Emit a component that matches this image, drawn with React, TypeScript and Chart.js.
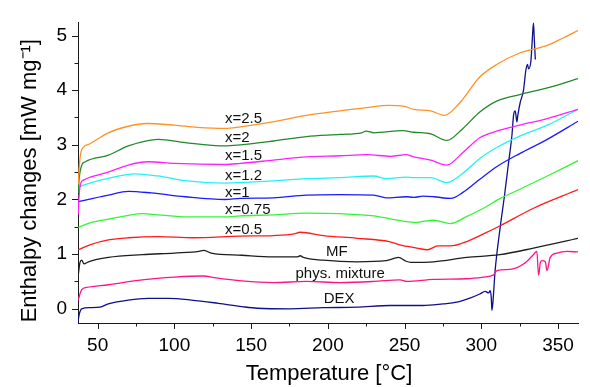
import React, { useEffect, useRef } from 'react';
import { Chart, registerables } from 'chart.js';

Chart.register(...registerables);

type P = [number, number];

// ---- axis ticks ----
const xTicks = [50, 100, 150, 200, 250, 300, 350];
const xMinorTicks = [75, 125, 175, 225, 275, 325];
const yTicks = [0, 1, 2, 3, 4, 5];
const yMinorTicks = [0.5, 1.5, 2.5, 3.5, 4.5];

// ---- series (temperature °C, enthalpy change mW/mg) ----
const curveX25: P[] = [
  [37.3, 2.28], [38, 2.6], [39, 2.85], [40.5, 2.95], [45, 3.02], [57, 3.22], [70, 3.34], [82, 3.39],
  [100, 3.36], [115, 3.32], [133, 3.3], [143, 3.33], [164, 3.42], [186, 3.54], [208, 3.62], [225, 3.68],
  [240, 3.72], [249, 3.71], [256, 3.65], [267, 3.62], [276, 3.54], [286, 3.77], [299, 4.24], [310, 4.47],
  [325, 4.68], [343, 4.82], [353, 4.95], [363, 5.09],
];
const curveX2: P[] = [
  [37.3, 2.12], [38, 2.4], [39.5, 2.62], [42, 2.69], [57, 2.81], [70, 2.98], [89.5, 3.1], [107, 3.04],
  [133, 2.98], [143, 3.0], [164.5, 3.07], [186, 3.15], [208, 3.19], [222, 3.22], [225, 3.25], [230, 3.22],
  [249, 3.26], [256, 3.23], [267, 3.2], [277.5, 3.08], [288, 3.3], [299, 3.6], [310, 3.8], [325, 3.92],
  [343, 4.04], [363, 4.21],
];
const curveX15: P[] = [
  [37.3, 1.72], [38, 2.1], [39, 2.3], [41, 2.36], [57, 2.5], [70, 2.63], [83, 2.69], [100, 2.66],
  [133, 2.64], [143, 2.66], [164.5, 2.72], [186, 2.78], [208, 2.8], [225, 2.82], [241, 2.79], [251, 2.82],
  [256, 2.78], [267, 2.72], [277.5, 2.63], [288, 2.86], [299, 3.13], [310, 3.25], [325, 3.36], [343, 3.48],
  [363, 3.65],
];
const curveX12: P[] = [
  [37.3, 2.22], [39.5, 2.25], [46, 2.31], [59, 2.4], [74, 2.47], [89, 2.43], [108.5, 2.34], [133, 2.3],
  [143, 2.31], [164.5, 2.34], [186, 2.38], [208, 2.4], [230, 2.43], [238, 2.38], [251, 2.41], [256, 2.4],
  [267, 2.4], [277.5, 2.31], [288, 2.48], [299, 2.75], [310, 2.95], [325, 3.16], [343, 3.36], [363, 3.65],
];
const curveX1: P[] = [
  [37.3, 1.96], [42, 1.99], [57, 2.08], [70, 2.15], [85, 2.12], [107, 2.05], [133, 2.0], [143, 2.02],
  [164.5, 2.03], [186, 2.08], [208, 2.09], [230, 2.08], [238, 2.03], [251, 2.05], [256, 2.04], [262, 2.06],
  [269, 2.05], [280, 2.02], [288, 2.13], [299, 2.37], [310, 2.6], [325, 2.84], [343, 3.1], [363, 3.43],
];
const curveX075: P[] = [
  [37.3, 1.49], [46, 1.58], [57, 1.64], [70, 1.71], [79, 1.74], [89, 1.72], [108.5, 1.68], [133, 1.68],
  [143, 1.7], [164.5, 1.72], [186, 1.75], [208, 1.74], [230, 1.7], [240, 1.65], [250, 1.6], [258, 1.58],
  [262, 1.6], [269, 1.62], [280, 1.56], [290.6, 1.69], [301.4, 1.84], [312.3, 2.02], [323, 2.16],
  [343, 2.43], [363, 2.71],
];
const curveX05: P[] = [
  [37.3, 1.08], [45, 1.17], [57, 1.26], [70, 1.3], [90, 1.32], [112, 1.3], [143, 1.33], [164.5, 1.34],
  [178, 1.37], [182, 1.4], [197, 1.34], [219, 1.29], [240, 1.23], [247, 1.17], [252, 1.14], [258, 1.11],
  [265, 1.08], [271.5, 1.15], [280, 1.15], [290.6, 1.23], [301.4, 1.37], [312.3, 1.52], [334, 1.84],
  [363, 2.18],
];
const curveMF: P[] = [
  [37.2, 0.58], [38.5, 0.85], [39.6, 0.89], [41.1, 0.82], [44, 0.86], [57, 0.94], [79, 0.99], [100, 1.02],
  [116, 1.05], [119, 1.07], [124, 1.02], [144, 0.98], [164.5, 0.95], [180, 0.95], [182, 0.97], [184, 0.94],
  [197, 0.89], [219, 0.86], [238, 0.88], [246, 0.94], [251, 0.87], [254, 0.85], [269, 0.86], [290.6, 0.94],
  [312, 0.99], [334, 1.11], [363, 1.29],
];
const curveMix: P[] = [
  [37.2, 0.15], [39.6, 0.35], [42.8, 0.39], [57, 0.44], [79, 0.53], [100, 0.58], [119, 0.6], [126, 0.57],
  [144, 0.51], [164.5, 0.48], [186, 0.5], [208, 0.48], [230, 0.5], [247, 0.53], [251.5, 0.5], [269, 0.54],
  [290.6, 0.55], [301.4, 0.58], [308, 0.62], [310.2, 0.7], [318.8, 0.72], [327.5, 0.82], [333, 0.96],
  [336.2, 1.05], [337.3, 0.61], [338.5, 0.85], [339.5, 0.88], [341.7, 0.86], [342.8, 0.7], [344.9, 0.94],
  [349.3, 1.02], [355.8, 1.05], [363, 1.04],
];
const curveDEX: P[] = [
  [37.2, -0.23], [38, -0.1], [39.6, 0.0], [45, 0.02], [51.5, 0.03], [57, 0.09], [70, 0.16], [83, 0.19],
  [96, 0.19], [111, 0.16], [128.6, 0.1], [144, 0.04], [154, 0.01], [175, 0.0], [197, 0.02], [219, 0.03],
  [240.6, 0.06], [262, 0.06], [275, 0.09], [284, 0.12], [293, 0.2], [299, 0.27], [302.5, 0.32],
  [304.7, 0.29], [305.8, 0.33], [306.5, 0.2], [306.9, -0.03], [307.5, 0.1], [309, 0.7], [312.3, 1.49],
  [315, 2.05], [317.7, 2.66], [320, 3.19], [321, 3.54], [322.1, 3.62], [323.2, 3.42], [323.8, 3.54],
  [325.3, 3.77], [327.5, 4.0], [329, 4.36], [330.1, 4.47], [330.8, 4.39], [332.3, 4.53], [333, 4.82],
  [334, 5.23], [334.5, 4.94], [335.2, 4.56],
];

const seriesNames = ['x=2.5', 'x=2', 'x=1.5', 'x=1.2', 'x=1', 'x=0.75', 'x=0.5', 'MF', 'phys. mixture', 'DEX'];
const seriesData = [curveX25, curveX2, curveX15, curveX12, curveX1, curveX075, curveX05, curveMF, curveMix, curveDEX];
const seriesColors = [
  '#FF9224', '#22892A', '#FF1FFF', '#22F2F2', '#1A1AFF', '#33F533', '#FF1A1A', '#1E1E1E', '#FF1488', '#10108C',
];

// label anchors in data units
const labelX = [133, 133, 133, 133, 133, 133, 133, 205.8, 208, 207.4];
const labelY = [3.47, 3.13, 2.8, 2.43, 2.13, 1.81, 1.44, 1.04, 0.64, 0.18];
const labelAlign: CanvasTextAlign[] = ['left', 'left', 'left', 'left', 'left', 'left', 'left', 'center', 'center', 'center'];

const FONT = 'Arial, "Liberation Sans", sans-serif';
const AXIS_COLOR = '#1a1a1a';

const decorPlugin = {
  id: 'decor',
  afterDraw(chart: any) {
    const ctx: CanvasRenderingContext2D = chart.ctx;
    const xs = chart.scales.x;
    const ys = chart.scales.y;
    const area = chart.chartArea;
    ctx.save();
    // tick marks
    ctx.strokeStyle = AXIS_COLOR;
    ctx.lineWidth = 1;
    ctx.beginPath();
    const b = Math.round(area.bottom);
    const l = Math.round(area.left);
    xTicks.forEach((v) => {
      const px = Math.round(xs.getPixelForValue(v)) + 0.5;
      ctx.moveTo(px, b);
      ctx.lineTo(px, b + 6);
    });
    xMinorTicks.forEach((v) => {
      const px = Math.round(xs.getPixelForValue(v)) + 0.5;
      ctx.moveTo(px, b);
      ctx.lineTo(px, b + 3.5);
    });
    yTicks.forEach((v) => {
      const py = Math.round(ys.getPixelForValue(v)) + 0.5;
      ctx.moveTo(l, py);
      ctx.lineTo(l - 6, py);
    });
    yMinorTicks.forEach((v) => {
      const py = Math.round(ys.getPixelForValue(v)) + 0.5;
      ctx.moveTo(l, py);
      ctx.lineTo(l - 3.5, py);
    });
    ctx.stroke();

    // series labels
    ctx.fillStyle = '#111';
    ctx.font = `15px ${FONT}`;
    ctx.textBaseline = 'middle';
    seriesNames.forEach((name, i) => {
      ctx.textAlign = labelAlign[i];
      ctx.fillText(name, xs.getPixelForValue(labelX[i]), ys.getPixelForValue(labelY[i]));
    });

    // axis titles
    ctx.fillStyle = '#000';
    ctx.font = `22px ${FONT}`;
    ctx.textAlign = 'center';
    ctx.textBaseline = 'alphabetic';
    ctx.fillText('Temperature [°C]', (area.left + area.right) / 2 + 1, area.bottom + 57);
    ctx.save();
    ctx.translate(36, (area.top + area.bottom) / 2 + 8);
    ctx.rotate(-Math.PI / 2);
    ctx.fillText('Enthalpy changes [mW mg⁻¹]', 0, 0);
    ctx.restore();
    ctx.restore();
  },
};

export default function App() {
  const ref = useRef<HTMLCanvasElement>(null);
  useEffect(() => {
    const canvas = ref.current;
    if (!canvas) return;
    const chart = new Chart(canvas, {
      type: 'line',
      data: {
        datasets: seriesData.map((d, i) => ({
          label: seriesNames[i],
          data: d.map(([x, y]) => ({ x, y })),
          borderColor: seriesColors[i],
          backgroundColor: seriesColors[i],
          borderWidth: 1.3,
          pointRadius: 0,
          cubicInterpolationMode: 'monotone' as const,
          fill: false,
        })),
      },
      options: {
        animation: false,
        responsive: false,
        parsing: true,
        layout: { padding: { top: 10, right: 12, left: 0, bottom: 0 } },
        plugins: { legend: { display: false }, tooltip: { enabled: false } },
        scales: {
          x: {
            type: 'linear',
            min: 37.2,
            max: 363,
            afterBuildTicks: (s: any) => {
              s.ticks = xTicks.map((v) => ({ value: v }));
            },
            afterFit: (s: any) => {
              s.height = 64;
            },
            grid: { display: true, drawOnChartArea: false, drawTicks: false },
            border: { display: true, color: AXIS_COLOR, width: 1 },
            ticks: {
              padding: 11,
              color: '#000',
              maxRotation: 0,
              autoSkip: false,
              font: { family: FONT, size: 19 },
              callback: (v: any) => String(v),
            },
          },
          y: {
            type: 'linear',
            min: -0.26,
            max: 5.24,
            afterBuildTicks: (s: any) => {
              s.ticks = yTicks.map((v) => ({ value: v }));
            },
            afterFit: (s: any) => {
              s.width = 78;
            },
            grid: { display: true, drawOnChartArea: false, drawTicks: false },
            border: { display: true, color: AXIS_COLOR, width: 1 },
            ticks: {
              padding: 11,
              color: '#000',
              autoSkip: false,
              font: { family: FONT, size: 19 },
              callback: (v: any) => String(v),
            },
          },
        },
      },
      plugins: [decorPlugin],
    });
    return () => chart.destroy();
  }, []);
  return (
    <div style={{ position: 'fixed', left: 0, top: 0, width: 590, height: 387, background: '#fff' }}>
      <canvas ref={ref} width={590} height={387} style={{ display: 'block', width: 590, height: 387 }} />
    </div>
  );
}
